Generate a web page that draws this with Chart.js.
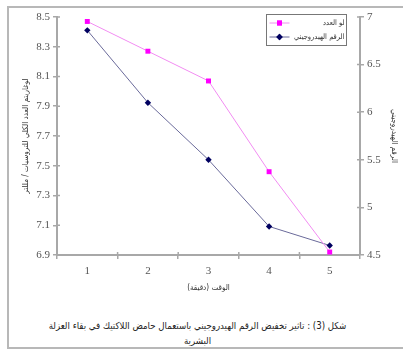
<!DOCTYPE html>
<html lang="ar">
<head>
<meta charset="utf-8">
<title>الرقم الهيدروجيني ولوغاريتم العدد</title>
<script src="https://cdn.jsdelivr.net/npm/chart.js@4/dist/chart.umd.min.js"></script>
<style>
  html, body { margin: 0; padding: 0; background: #fff; }
  body { width: 403px; height: 351px; position: relative; overflow: hidden; }
  #frame { position: absolute; left: 7px; top: 6px; width: 420px; height: 343px;
           border: 2px solid #b8b8b8; box-sizing: border-box; }
  #wrap { position: absolute; left: 0; top: 0; width: 403px; height: 300px; }
  #caption { position: absolute; left: 0; width: 395px; top: 318px; text-align: center;
             direction: rtl; font: 9.6px "DejaVu Sans Condensed", "DejaVu Sans", sans-serif;
             color: #222; line-height: 15px; white-space: nowrap; }
</style>
</head>
<body>
<div id="frame"></div>
<div id="wrap"><canvas id="c" width="403" height="300"></canvas></div>
<div id="caption">شكل (3) : تاثير تخفيض الرقم الهيدروجيني باستعمال حامض اللاكتيك في بقاء العزلة<br>البشرية</div>
<script>
// time points (minutes)
const categories = ['1', '2', '3', '4', '5'];
// log of total count per ml (left axis)
const logCount = [8.47, 8.27, 8.07, 7.46, 6.92];
// pH value (right axis)
const phValue = [6.86, 6.10, 5.50, 4.80, 4.60];
const seriesNames = ['لو العدد', 'الرقم الهيدروجيني'];
const axisTitles = {
  x: 'الوقت (دقيقة)',
  left: 'لوغاريتم العدد الكلي للتروسيات / مللتر',
  right: 'الرقم الهيدروجيني'
};

const AXIS = '#a8a8a8';
const TICK_TXT = '#555';
const AR_FAMILY = '"DejaVu Sans Condensed", "DejaVu Sans", sans-serif';
const numFont = { family: '"Liberation Serif", serif', size: 11 };
const arFont = { family: AR_FAMILY, size: 8 };

// small inner halves of the tick marks, so they cross the axis lines
const crossTicks = {
  id: 'crossTicks',
  afterDraw(chart) {
    const ctx = chart.ctx;
    const { x, y, y2 } = chart.scales;
    ctx.save();
    ctx.strokeStyle = AXIS;
    ctx.lineWidth = 1.5;
    ctx.beginPath();
    const step = x.getPixelForValue(1) - x.getPixelForValue(0);
    for (let i = 1; i < categories.length; i++) {
      const px = x.getPixelForValue(i) - step / 2;
      ctx.moveTo(px, y.bottom); ctx.lineTo(px, y.bottom - 3);
    }
    y.ticks.forEach(t => {
      const py = y.getPixelForValue(t.value);
      ctx.moveTo(y.right, py); ctx.lineTo(y.right + 3, py);
    });
    y2.ticks.forEach(t => {
      const py = y2.getPixelForValue(t.value);
      ctx.moveTo(y2.left, py); ctx.lineTo(y2.left - 3, py);
    });
    ctx.stroke();
    ctx.restore();
  }
};

// boxed legend inside the plot, sample on the left and name on the right
const boxLegend = {
  id: 'boxLegend',
  afterDraw(chart) {
    const ctx = chart.ctx;
    const bx = 266.5, by = 14.5, bw = 80, bh = 31;
    ctx.save();
    ctx.fillStyle = '#fff';
    ctx.fillRect(bx, by, bw, bh);
    ctx.strokeStyle = '#777';
    ctx.lineWidth = 1;
    ctx.strokeRect(bx, by, bw, bh);
    chart.data.datasets.forEach((ds, i) => {
      const cy = by + 8.5 + i * 14;
      ctx.strokeStyle = ds.borderColor;
      ctx.lineWidth = 1;
      ctx.beginPath();
      ctx.moveTo(bx + 3, cy); ctx.lineTo(bx + 23, cy);
      ctx.stroke();
      ctx.fillStyle = ds.pointBackgroundColor;
      ctx.beginPath();
      Chart.helpers.drawPoint(ctx, {
        pointStyle: ds.pointStyle, radius: ds.pointRadius, borderWidth: 0, rotation: 0
      }, bx + 13, cy);
      ctx.fill();
      ctx.fillStyle = '#333';
      ctx.font = '7.5px ' + AR_FAMILY;
      ctx.textBaseline = 'middle';
      ctx.direction = 'rtl';
      ctx.textAlign = 'right';
      ctx.fillText(ds.label, bx + bw - 2, cy);
    });
    ctx.restore();
  }
};

new Chart(document.getElementById('c'), {
  type: 'line',
  data: {
    labels: categories,
    datasets: [
      {
        label: seriesNames[0], data: logCount, yAxisID: 'y',
        borderColor: '#f28cf2', borderWidth: 1,
        pointStyle: 'rect', pointRadius: 3.5,
        pointBackgroundColor: '#ff00ff', pointBorderColor: '#ff00ff', pointBorderWidth: 0,
        tension: 0
      },
      {
        label: seriesNames[1], data: phValue, yAxisID: 'y2',
        borderColor: '#6a6a9a', borderWidth: 1,
        pointStyle: 'rectRot', pointRadius: 3.2,
        pointBackgroundColor: '#000060', pointBorderColor: '#000060', pointBorderWidth: 0,
        tension: 0
      }
    ]
  },
  options: {
    responsive: false,
    animation: false,
    events: [],
    layout: { padding: { top: 17, left: 0, right: 0, bottom: 0 } },
    plugins: { legend: { display: false }, tooltip: { enabled: false } },
    scales: {
      x: {
        type: 'category', offset: true,
        grid: { display: true, drawOnChartArea: false, offset: true, tickLength: 4, color: AXIS, lineWidth: 1.5 },
        border: { display: true, color: AXIS, width: 2 },
        ticks: { color: TICK_TXT, font: numFont, padding: 6, maxRotation: 0 },
        title: { display: true, text: axisTitles.x, color: '#333', font: arFont, padding: { top: 0, bottom: 7 } },
        afterFit(s) { s.height = 45; }
      },
      y: {
        position: 'left', min: 6.9, max: 8.5,
        grid: { display: true, drawOnChartArea: false, tickLength: 4, color: AXIS, lineWidth: 1.5 },
        border: { display: true, color: AXIS, width: 2 },
        ticks: { stepSize: 0.2, color: TICK_TXT, font: numFont, padding: 3,
                 callback: v => Number(v).toFixed(1) },
        title: { display: true, text: axisTitles.left, color: '#333', font: arFont, padding: { top: 21, bottom: 0 } },
        afterFit(s) { s.width = 57; }
      },
      y2: {
        position: 'right', min: 4.5, max: 7,
        grid: { display: true, drawOnChartArea: false, tickLength: 4, color: AXIS, lineWidth: 1.5 },
        border: { display: true, color: AXIS, width: 2 },
        ticks: { stepSize: 0.5, color: TICK_TXT, font: numFont, padding: 3,
                 callback: v => String(Math.round(v * 10) / 10) },
        title: { display: true, text: axisTitles.right, color: '#333', font: arFont, padding: { top: 4, bottom: 0 } },
        afterFit(s) { s.width = 43; }
      }
    }
  },
  plugins: [crossTicks, boxLegend]
});
</script>
</body>
</html>
